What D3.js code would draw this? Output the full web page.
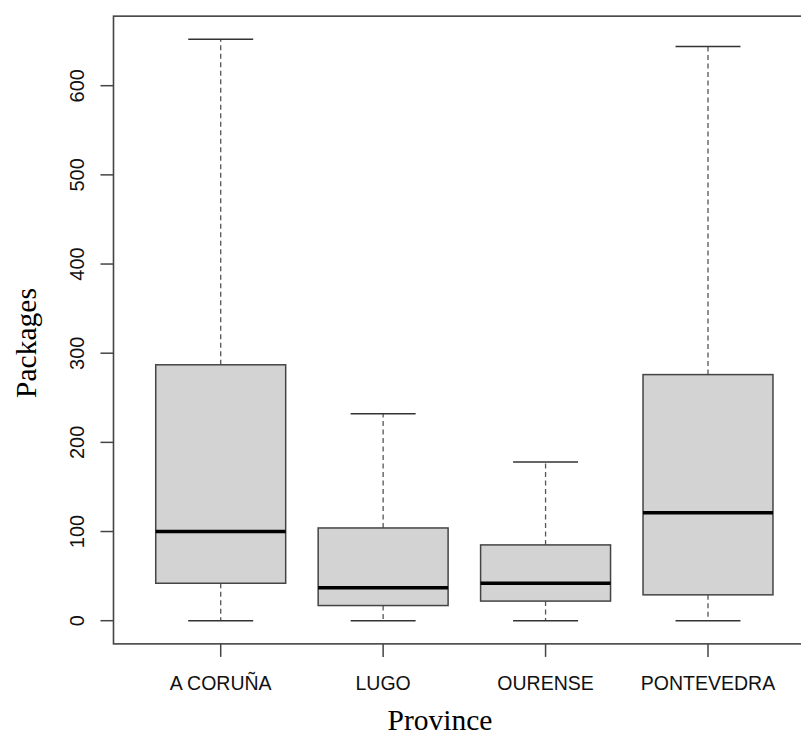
<!DOCTYPE html>
<html>
<head>
<meta charset="utf-8">
<script src="https://cdn.jsdelivr.net/npm/d3@7"></script>
<style>
  body { margin: 0; background: #fff; }
  svg { display: block; }
</style>
</head>
<body>
<div id="chart"></div>
<script>
// Box statistics per province
const provinces = ['A CORUÑA', 'LUGO', 'OURENSE', 'PONTEVEDRA'];
const mins = [0, 0, 0, 0];
const q1s = [42, 17, 22, 29];
const medians = [100, 37, 42, 121];
const q3s = [287, 104, 85, 276];
const maxs = [652, 232, 178, 644];
const yTicks = [0, 100, 200, 300, 400, 500, 600];

const width = 801, height = 738;

const svg = d3.select('#chart')
  .append('svg')
  .attr('width', width)
  .attr('height', height);

// Scales (R style: boxes at 1..n, 4% padding on the limits)
const x = d3.scaleLinear().domain([1, 4]).range([220.7, 708]);
const y = d3.scaleLinear().domain([0, 600]).range([620.7, 85.7]);

const xLim = [0.34, 4.66];
const yLim = [-26, 678];

const boxes = provinces.map((p, i) => ({
  name: p, pos: i + 1,
  min: mins[i], q1: q1s[i], med: medians[i], q3: q3s[i], max: maxs[i]
}));

const g = svg.append('g');

// Whiskers (dashed)
g.selectAll('.whisker-hi')
  .data(boxes)
  .enter()
  .append('line')
  .attr('x1', d => x(d.pos)).attr('x2', d => x(d.pos))
  .attr('y1', d => y(d.q3)).attr('y2', d => y(d.max))
  .attr('stroke', '#555')
  .attr('stroke-width', 1.3)
  .attr('stroke-dasharray', '5,3.5');

g.selectAll('.whisker-lo')
  .data(boxes)
  .enter()
  .append('line')
  .attr('x1', d => x(d.pos)).attr('x2', d => x(d.pos))
  .attr('y1', d => y(d.q1)).attr('y2', d => y(d.min))
  .attr('stroke', '#555')
  .attr('stroke-width', 1.3)
  .attr('stroke-dasharray', '5,3.5');

// Whisker caps
['min', 'max'].forEach(k => {
  g.selectAll('.cap-' + k)
    .data(boxes)
    .enter()
    .append('line')
    .attr('x1', d => x(d.pos - 0.2)).attr('x2', d => x(d.pos + 0.2))
    .attr('y1', d => y(d[k])).attr('y2', d => y(d[k]))
    .attr('stroke', '#333')
    .attr('stroke-width', 1.5);
});

// Boxes
g.selectAll('.box')
  .data(boxes)
  .enter()
  .append('rect')
  .attr('x', d => x(d.pos - 0.4))
  .attr('width', d => x(d.pos + 0.4) - x(d.pos - 0.4))
  .attr('y', d => y(d.q3))
  .attr('height', d => y(d.q1) - y(d.q3))
  .attr('fill', '#d3d3d3')
  .attr('stroke', '#444')
  .attr('stroke-width', 1.5);

// Medians
g.selectAll('.median')
  .data(boxes)
  .enter()
  .append('line')
  .attr('x1', d => x(d.pos - 0.4)).attr('x2', d => x(d.pos + 0.4))
  .attr('y1', d => y(d.med)).attr('y2', d => y(d.med))
  .attr('stroke', '#000')
  .attr('stroke-width', 3.5);

// Frame
svg.append('rect')
  .attr('x', x(xLim[0]))
  .attr('y', y(yLim[1]))
  .attr('width', x(xLim[1]) - x(xLim[0]))
  .attr('height', y(yLim[0]) - y(yLim[1]))
  .attr('fill', 'none')
  .attr('stroke', '#444')
  .attr('stroke-width', 1.6);

// Y axis ticks + rotated labels
const left = x(xLim[0]);
svg.selectAll('.ytick')
  .data(yTicks)
  .enter()
  .append('line')
  .attr('x1', left - 13).attr('x2', left)
  .attr('y1', d => y(d)).attr('y2', d => y(d))
  .attr('stroke', '#444')
  .attr('stroke-width', 1.5);

svg.selectAll('.ylabel')
  .data(yTicks)
  .enter()
  .append('text')
  .attr('transform', d => `translate(${left - 29.5},${y(d)}) rotate(-90)`)
  .attr('text-anchor', 'middle')
  .style('font-family', '"Liberation Sans", Arial, sans-serif')
  .style('font-size', '20px')
  .style('fill', '#111')
  .text(d => d);

// X axis ticks + labels
const bottom = y(yLim[0]);
svg.selectAll('.xtick')
  .data(boxes)
  .enter()
  .append('line')
  .attr('x1', d => x(d.pos)).attr('x2', d => x(d.pos))
  .attr('y1', bottom).attr('y2', bottom + 13)
  .attr('stroke', '#444')
  .attr('stroke-width', 1.5);

svg.selectAll('.xlabel')
  .data(boxes)
  .enter()
  .append('text')
  .attr('x', d => x(d.pos))
  .attr('y', bottom + 46)
  .attr('text-anchor', 'middle')
  .style('font-family', '"Liberation Sans", Arial, sans-serif')
  .style('font-size', '19.5px')
  .style('fill', '#111')
  .text(d => d.name);

// Axis titles
svg.append('text')
  .attr('x', 440)
  .attr('y', 730)
  .attr('text-anchor', 'middle')
  .style('font-family', '"Liberation Serif", "Times New Roman", serif')
  .style('font-size', '29.5px')
  .style('fill', '#000')
  .text('Province');

svg.append('text')
  .attr('transform', 'translate(36,343) rotate(-90)')
  .attr('text-anchor', 'middle')
  .style('font-family', '"Liberation Serif", "Times New Roman", serif')
  .style('font-size', '29.5px')
  .style('fill', '#000')
  .text('Packages');
</script>
</body>
</html>
